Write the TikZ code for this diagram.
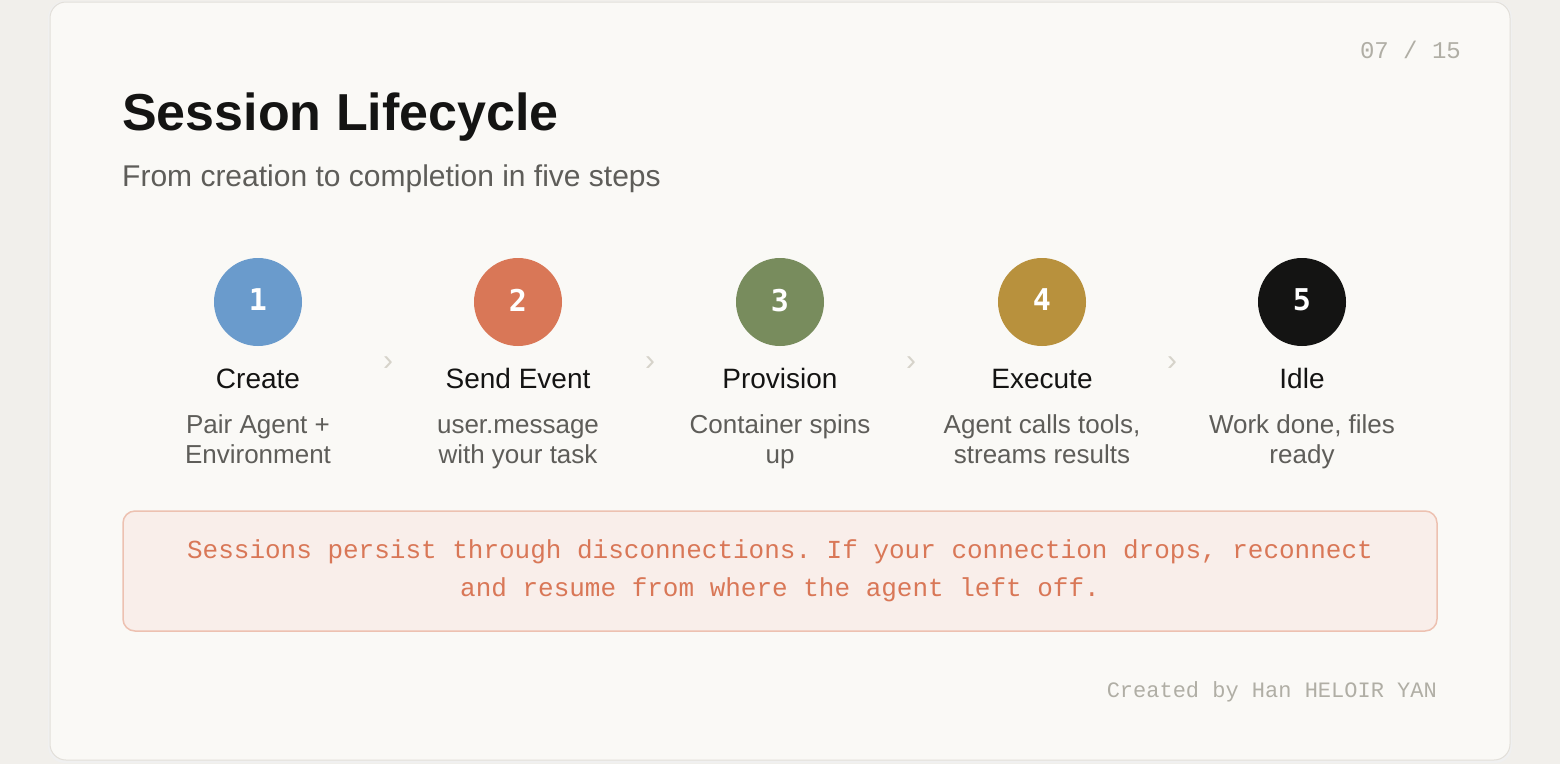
\documentclass[tikz,border=0pt]{standalone}
\usepackage{fontspec}
\setmainfont{Liberation Sans}
\setmonofont{Liberation Mono}
\newfontfamily\digitfont{DejaVu Sans Mono}

\definecolor{pagebg}{HTML}{F1EFEB}
\definecolor{cardbg}{HTML}{FAF9F6}
\definecolor{cardline}{HTML}{E2DFD9}
\definecolor{ink}{HTML}{141413}
\definecolor{muted}{HTML}{5E5D59}
\definecolor{faint}{HTML}{B0AEA5}
\definecolor{chevc}{HTML}{D6D3CA}
\definecolor{skyblue}{HTML}{6A9BCC}
\definecolor{clay}{HTML}{D97757}
\definecolor{olive}{HTML}{788C5D}
\definecolor{ochre}{HTML}{B8913D}
\definecolor{notefill}{HTML}{F9EEEA}
\definecolor{noteline}{HTML}{EDC1B1}

\tikzset{
  stepdot/.style={circle, minimum size=88pt, inner sep=0pt, text=white,
    font=\digitfont\bfseries\fontsize{30}{36}\selectfont},
  steptitle/.style={anchor=base, inner sep=0pt, text=ink,
    font=\fontsize{28}{34}\selectfont},
  stepnote/.style={anchor=base, inner sep=0pt, text=muted, align=center,
    font=\fontsize{26}{30}\selectfont},
  chev/.style={inner sep=0pt, text=chevc, font=\fontsize{30}{34}\selectfont}
}

\begin{document}
\begin{tikzpicture}[x=1pt,y=-1pt]
    \useasboundingbox (0,0) rectangle (1560,764);
    % page and card
    \fill[pagebg] (0,0) rectangle (1560,764);
    \fill[black!6, rounded corners=17pt] (48,1) rectangle (1512,763);
    \filldraw[fill=cardbg, draw=cardline, line width=1pt, rounded corners=16pt] (50,2) rectangle (1510,760);
    % the header
    \node[anchor=base east, inner sep=0pt, text=faint, font=\ttfamily\fontsize{24}{28}\selectfont] (page) at (1461,58) {07 / 15};
    \node[anchor=base west, inner sep=0pt, text=ink, font=\bfseries\fontsize{52}{60}\selectfont] (title) at (122,130) {Session Lifecycle};
    \node[anchor=base west, inner sep=0pt, text=muted, font=\fontsize{30}{34}\selectfont] (subtitle) at (122,186) {From creation to completion in five steps};
    % the five steps (circles first, the texts below them)
    % (the number sits a little above the middle, as in the slide)
    \node[stepdot, fill=skyblue, text depth=4pt] (s1) at (258,302) {1};
    \node[stepdot, fill=clay, text depth=4pt] (s2) at (518,302) {2};
    \node[stepdot, fill=olive, text depth=4pt] (s3) at (780,302) {3};
    \node[stepdot, fill=ochre, text depth=4pt] (s4) at (1042,302) {4};
    \node[stepdot, fill=ink, text depth=4pt] (s5) at (1302,302) {5};

    \node[steptitle] (t1) at (258,388) {Create};
    \node[steptitle] (t2) at (518,388) {Send Event};
    \node[steptitle] (t3) at (780,388) {Provision};
    \node[steptitle] (t4) at (1042,388) {Execute};
    \node[steptitle] (t5) at (1302,388) {Idle};

    % base of a two-line node is the baseline of its last line
    \node[stepnote] (n1) at (258,463) {Pair Agent +\\Environment};
    \node[stepnote] (n2) at (518,463) {user.message\\with your task};
    \node[stepnote] (n3) at (780,463) {Container spins\\up};
    \node[stepnote] (n4) at (1042,463) {Agent calls tools,\\streams results};
    \node[stepnote] (n5) at (1302,463) {Work done, files\\ready};

    % the chevrons between the steps
    \node[chev] (c12) at (388,364) {›};
    \node[chev] (c23) at (650,364) {›};
    \node[chev] (c34) at (911,364) {›};
    \node[chev] (c45) at (1172,364) {›};

    % the note box
    \node[draw=noteline, fill=notefill, line width=1.5pt, rounded corners=12pt,
          minimum width=1314pt, minimum height=120pt, align=center, text=clay,
          font=\ttfamily\fontsize{26}{38}\selectfont] (note) at (780,571)
          {Sessions persist through disconnections. If your connection drops, reconnect\\and resume from where the agent left off.};
    % footer
    \node[anchor=base east, inner sep=0pt, text=faint, font=\ttfamily\fontsize{22}{26}\selectfont] (credit) at (1437,697) {Created by Han HELOIR YAN};
\end{tikzpicture}
\end{document}
